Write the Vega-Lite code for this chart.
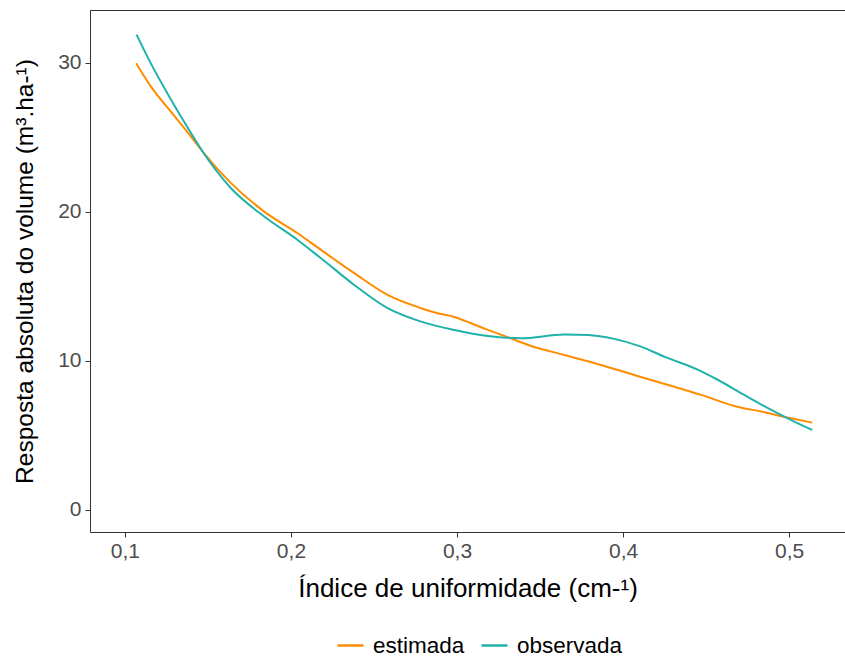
{
  "$schema": "https://vega.github.io/schema/vega-lite/v6.json",
  "autosize": {"type": "none"},
  "width": 755,
  "height": 522,
  "padding": {"left": 90, "top": 10, "right": 0, "bottom": 125},
  "background": "white",
  "config": {
    "view": {"stroke": "#333333", "strokeWidth": 1},
    "font": "Liberation Sans"
  },
  "data": {
    "values": [
      {"x": 0.1068, "y": 29.98, "serie": "estimada"},
      {"x": 0.1157, "y": 28.41, "serie": "estimada"},
      {"x": 0.1277, "y": 26.73, "serie": "estimada"},
      {"x": 0.1398, "y": 25.05, "serie": "estimada"},
      {"x": 0.1468, "y": 24.05, "serie": "estimada"},
      {"x": 0.1639, "y": 21.93, "serie": "estimada"},
      {"x": 0.1839, "y": 20.02, "serie": "estimada"},
      {"x": 0.2040, "y": 18.57, "serie": "estimada"},
      {"x": 0.2181, "y": 17.45, "serie": "estimada"},
      {"x": 0.2381, "y": 15.89, "serie": "estimada"},
      {"x": 0.2582, "y": 14.43, "serie": "estimada"},
      {"x": 0.2783, "y": 13.54, "serie": "estimada"},
      {"x": 0.2884, "y": 13.20, "serie": "estimada"},
      {"x": 0.2984, "y": 12.95, "serie": "estimada"},
      {"x": 0.3084, "y": 12.53, "serie": "estimada"},
      {"x": 0.3185, "y": 12.08, "serie": "estimada"},
      {"x": 0.3285, "y": 11.68, "serie": "estimada"},
      {"x": 0.3446, "y": 11.00, "serie": "estimada"},
      {"x": 0.3645, "y": 10.40, "serie": "estimada"},
      {"x": 0.3867, "y": 9.73, "serie": "estimada"},
      {"x": 0.4066, "y": 9.06, "serie": "estimada"},
      {"x": 0.4271, "y": 8.39, "serie": "estimada"},
      {"x": 0.4470, "y": 7.72, "serie": "estimada"},
      {"x": 0.4669, "y": 6.98, "serie": "estimada"},
      {"x": 0.4831, "y": 6.60, "serie": "estimada"},
      {"x": 0.5012, "y": 6.15, "serie": "estimada"},
      {"x": 0.5139, "y": 5.86, "serie": "estimada"},
      {"x": 0.1070, "y": 31.90, "serie": "observada"},
      {"x": 0.1157, "y": 29.95, "serie": "observada"},
      {"x": 0.1277, "y": 27.55, "serie": "observada"},
      {"x": 0.1398, "y": 25.30, "serie": "observada"},
      {"x": 0.1468, "y": 24.05, "serie": "observada"},
      {"x": 0.1639, "y": 21.59, "serie": "observada"},
      {"x": 0.1839, "y": 19.69, "serie": "observada"},
      {"x": 0.2040, "y": 18.12, "serie": "observada"},
      {"x": 0.2181, "y": 16.89, "serie": "observada"},
      {"x": 0.2381, "y": 15.10, "serie": "observada"},
      {"x": 0.2582, "y": 13.54, "serie": "observada"},
      {"x": 0.2783, "y": 12.64, "serie": "observada"},
      {"x": 0.2984, "y": 12.08, "serie": "observada"},
      {"x": 0.3185, "y": 11.68, "serie": "observada"},
      {"x": 0.3386, "y": 11.52, "serie": "observada"},
      {"x": 0.3645, "y": 11.77, "serie": "observada"},
      {"x": 0.3789, "y": 11.74, "serie": "observada"},
      {"x": 0.3946, "y": 11.48, "serie": "observada"},
      {"x": 0.4108, "y": 10.96, "serie": "observada"},
      {"x": 0.4247, "y": 10.29, "serie": "observada"},
      {"x": 0.4452, "y": 9.40, "serie": "observada"},
      {"x": 0.4572, "y": 8.72, "serie": "observada"},
      {"x": 0.4729, "y": 7.72, "serie": "observada"},
      {"x": 0.4892, "y": 6.71, "serie": "observada"},
      {"x": 0.5030, "y": 5.93, "serie": "observada"},
      {"x": 0.5139, "y": 5.37, "serie": "observada"}
    ]
  },
  "mark": {"type": "line", "strokeWidth": 2, "interpolate": "monotone"},
  "encoding": {
    "x": {
      "field": "x",
      "type": "quantitative",
      "scale": {"domain": [0.079, 0.5336], "nice": false, "zero": false},
      "axis": {
        "title": "Índice de uniformidade (cm-¹)",
        "values": [0.1, 0.2, 0.3, 0.4, 0.5],
        "labelExpr": "replace(format(datum.value, '.1f'), '.', ',')",
        "grid": false,
        "domain": false,
        "tickColor": "#333333",
        "tickSize": 5,
        "labelColor": "#4D4D4D",
        "labelFontSize": 21,
        "labelPadding": 3,
        "titleFontSize": 26,
        "titleFontWeight": "normal",
        "titleColor": "#000000",
        "titlePadding": 14
      }
    },
    "y": {
      "field": "y",
      "type": "quantitative",
      "scale": {"domain": [-1.48, 33.55], "nice": false, "zero": false},
      "axis": {
        "title": "Resposta absoluta do volume (m³.ha-¹)",
        "values": [0, 10, 20, 30],
        "grid": false,
        "domain": false,
        "tickColor": "#333333",
        "tickSize": 5,
        "labelColor": "#4D4D4D",
        "labelFontSize": 21,
        "labelPadding": 4,
        "titleFontSize": 24.5,
        "titleFontWeight": "normal",
        "titleColor": "#000000",
        "titlePadding": 20
      }
    },
    "color": {
      "field": "serie",
      "type": "nominal",
      "scale": {"domain": ["estimada", "observada"], "range": ["#FF8C00", "#20B2AA"]},
      "legend": {
        "title": null,
        "orient": "none",
        "direction": "horizontal",
        "legendX": 246,
        "legendY": 621,
        "symbolType": "stroke",
        "symbolStrokeWidth": 2.5,
        "symbolSize": 676,
        "labelFontSize": 22.5,
        "labelColor": "#000000",
        "columnPadding": 11,
        "labelOffset": 8
      }
    }
  }
}
